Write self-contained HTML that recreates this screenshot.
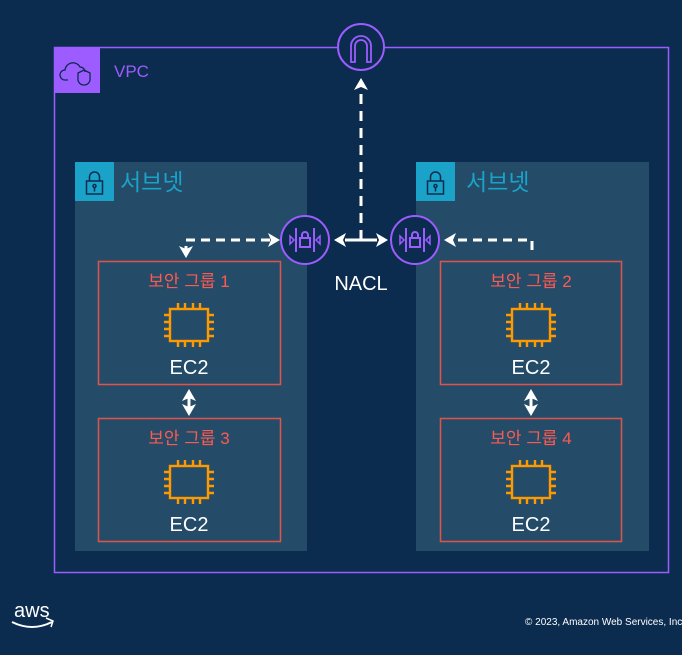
<!DOCTYPE html>
<html><head><meta charset="utf-8"><style>
body{margin:0;background:#0b2c4e;width:682px;height:650px;overflow:hidden}
svg text{font-family:"Liberation Sans","Noto Sans CJK KR",sans-serif}
</style></head><body>
<svg width="682" height="650" viewBox="0 0 682 650" xmlns="http://www.w3.org/2000/svg">
<defs>
<path id="ahr" d="M0,0 L-12,-7 L-9,0 L-12,7z" fill="#fff"/>
<g id="chip" fill="none" stroke="#ff9900" stroke-width="2.4">
<rect x="-19" y="-16" width="38" height="32"/>
<path d="M-11,-16v-6M-4,-16v-6M4,-16v-6M11,-16v-6M-11,16v6M-4,16v6M4,16v6M11,16v6M-19,-10h-6M-19,-3h-6M-19,4h-6M-19,11h-6M19,-10h6M19,-3h6M19,4h6M19,11h6"/>
</g>
<g id="nacl" fill="none" stroke="#9c5cff" stroke-width="2">
<circle r="24" fill="#0b2c4e"/>
<path d="M-9,-12v24M9,-12v24"/>
<path d="M-15,-4l4,4l-4,4zM15,-4l-4,4l4,4z" stroke-width="1.5"/>
<rect x="-5" y="-2" width="10" height="9"/><path d="M-3,-2v-3a3,3 0 0 1 6,0v3"/>
</g>
<g id="lock" fill="none" stroke="#0b2c4e" stroke-width="1.5">
<rect x="-8" y="-3" width="16" height="13"/><path d="M-5,-3v-4a5,5 0 0 1 10,0v4"/><circle cx="0" cy="2" r="1.5"/><path d="M0,3.5v4"/>
</g>
</defs>
<rect x="54.5" y="47.5" width="614" height="525" fill="none" stroke="#9c5cff" stroke-width="1.5"/>
<rect x="54" y="47" width="46" height="46" fill="#9c5cff"/>
<path d="M68,80 h-3 a5,5 0 0 1 0,-10 a8,8 0 0 1 15,-3 a5,5 0 0 1 5,5" fill="none" stroke="#0b2c4e" stroke-width="1.3"/>
<path d="M84,70 l6,3 v5 a6,6 0 0 1 -6,7 a6,6 0 0 1 -6,-7 v-5z" fill="none" stroke="#0b2c4e" stroke-width="1.3"/>
<text x="114" y="77" fill="#9c5cff" font-size="17">VPC</text>
<circle cx="361" cy="47" r="23" fill="#0b2c4e" stroke="#9c5cff" stroke-width="2"/>
<path d="M351,62v-16a10,10 0 0 1 20,0v16h-4v-16a6,6 0 0 0 -12,0v16z" fill="none" stroke="#9c5cff" stroke-width="1.8"/>
<rect x="75" y="162" width="232" height="389" fill="#244c69"/>
<rect x="416" y="162" width="233" height="389" fill="#244c69"/>
<rect x="75" y="162" width="39" height="39" fill="#1aa2c8"/>
<rect x="416" y="162" width="39" height="39" fill="#1aa2c8"/>
<use href="#lock" x="94.5" y="184"/><use href="#lock" x="435.5" y="184"/>
<text x="120" y="190" fill="#1aa2c8" font-size="23">서브넷</text>
<text x="466" y="190" fill="#1aa2c8" font-size="23">서브넷</text>
<g fill="none" stroke="#e0524a" stroke-width="1.5">
<rect x="98.5" y="261.5" width="182" height="123"/>
<rect x="98.5" y="418.5" width="182" height="123"/>
<rect x="440.5" y="261.5" width="181" height="123"/>
<rect x="440.5" y="418.5" width="181" height="123"/>
</g>
<g fill="#ff5a4f" font-size="17" text-anchor="middle">
<text x="189" y="287">보안 그룹 1</text>
<text x="189" y="444">보안 그룹 3</text>
<text x="531" y="287">보안 그룹 2</text>
<text x="531" y="444">보안 그룹 4</text>
</g>
<use href="#chip" x="189" y="325"/><use href="#chip" x="189" y="482"/>
<use href="#chip" x="531" y="325"/><use href="#chip" x="531" y="482"/>
<g fill="#fff" font-size="20" text-anchor="middle">
<text x="189" y="374">EC2</text><text x="189" y="531">EC2</text>
<text x="531" y="374">EC2</text><text x="531" y="531">EC2</text>
<text x="361" y="290">NACL</text>
</g>
<g stroke="#fff" stroke-width="3" fill="none">
<path d="M270,240 H186 V250" stroke-dasharray="9,6"/>
<path d="M532,250 V240 H455" stroke-dasharray="9,6"/>
<path d="M361,240 V90" stroke-dasharray="10,7"/>
<path d="M361,240 H345"/>
<path d="M361,240 H377"/>
<path d="M189,395 V408"/>
<path d="M531,395 V408"/>
</g>
<use href="#ahr" transform="translate(280,240)"/>
<use href="#ahr" transform="translate(186,258) rotate(90)"/>
<use href="#ahr" transform="translate(444,240) rotate(180)"/>
<use href="#ahr" transform="translate(361,78) rotate(-90)"/>
<use href="#ahr" transform="translate(334,240) rotate(180)"/>
<use href="#ahr" transform="translate(388,240)"/>
<use href="#ahr" transform="translate(189,389) rotate(-90)"/>
<use href="#ahr" transform="translate(189,416) rotate(90)"/>
<use href="#ahr" transform="translate(531,389) rotate(-90)"/>
<use href="#ahr" transform="translate(531,416) rotate(90)"/>
<use href="#nacl" x="305" y="240"/>
<use href="#nacl" x="415" y="240"/>
<text x="14" y="617" fill="#fff" font-size="20">aws</text>
<path d="M12,622 q20,10 40,0" fill="none" stroke="#fff" stroke-width="2"/>
<path d="M46,618 l7,3 l-2,6" fill="none" stroke="#fff" stroke-width="1.5"/>
<text x="525" y="625" fill="#fff" font-size="10">© 2023, Amazon Web Services, Inc.</text>
</svg>
</body></html>
